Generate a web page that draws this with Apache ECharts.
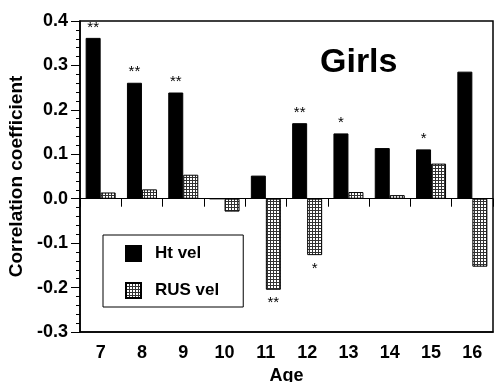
<!DOCTYPE html>
<html>
<head>
<meta charset="utf-8">
<script src="https://cdn.jsdelivr.net/npm/echarts@6/dist/echarts.min.js"></script>
<style>html,body{margin:0;padding:0;background:#fff;}#c{width:496px;height:382px;}</style>
</head>
<body>
<div id="c"></div>
<script>
const ages = ['7','8','9','10','11','12','13','14','15','16'];
const htVel = [0.362, 0.261, 0.239, 0.0, 0.052, 0.170, 0.147, 0.114, 0.111, 0.286];
const rusVel = [0.014, 0.021, 0.054, -0.029, -0.205, -0.127, 0.015, 0.008, 0.079, -0.153];
const htSig = ['**','**','**','','','**','*','','*',''];
const rusSig = ['','','','','**','*','','','',''];
const yTicks = ['-0.3','-0.2','-0.1','0.0','0.1','0.2','0.3','0.4'];

const FONT = 'Liberation Sans, Arial, Helvetica, sans-serif';

const pc = document.createElement('canvas');
pc.width = 3; pc.height = 3;
const g = pc.getContext('2d');
g.fillStyle = '#fff'; g.fillRect(0,0,3,3);
g.fillStyle = '#333'; g.fillRect(0,0,3,1); g.fillRect(0,0,1,3);
const pattern = {image: pc, repeat: 'repeat'};

const chart = echarts.init(document.getElementById('c'), null, {renderer:'canvas'});
chart.setOption({
  animation: false,
  backgroundColor: '#fff',
  title: {
    text: 'Girls', left: 320, top: 46, padding: 0,
    textStyle: {fontFamily: FONT, fontSize: 34, fontWeight: 'bold', color: '#000'}
  },
  legend: {
    orient: 'vertical', left: 103, top: 235,
    padding: [10, 24, 8, 22],
    icon: 'rect',
    itemWidth: 15, itemHeight: 15, itemGap: 20,
    borderColor: '#000', borderWidth: 1,
    backgroundColor: '#fff',
    textStyle: {fontFamily: FONT, fontSize: 17, fontWeight: 'bold', color: '#000', padding: [0,0,0,9]},
    data: ['Ht vel', 'RUS vel']
  },
  grid: {
    left: 80, right: 3, top: 21, bottom: 50,
    outerBoundsMode: 'none', containLabel: false,
    show: true, borderColor: '#000', borderWidth: 1.5, backgroundColor: '#fff'
  },
  xAxis: [{
    type: 'category', data: ages, position: 'bottom',
    axisLine: {onZero: false, lineStyle: {color: '#000', width: 1.5}},
    axisTick: {show: false},
    axisLabel: {color: '#000', fontFamily: FONT, fontSize: 18, fontWeight: 'bold', margin: 12},
    name: 'Age', nameLocation: 'middle', nameGap: 34,
    nameTextStyle: {color: '#000', fontFamily: FONT, fontSize: 18, fontWeight: 'bold'}
  }, {
    type: 'category', data: ages, position: 'top',
    axisLine: {onZero: true, lineStyle: {color: '#000', width: 1}},
    axisTick: {show: true, inside: true, length: 8, lineStyle: {color: '#000', width: 1}},
    axisLabel: {show: false}
  }],
  yAxis: {
    type: 'value', min: -0.3, max: 0.4, interval: 0.1,
    axisLine: {show: true, lineStyle: {color: '#000', width: 1.5}},
    axisTick: {show: true, length: 9, lineStyle: {color: '#000'}},
    minorTick: {show: true, splitNumber: 5, length: 4, lineStyle: {color: '#000'}},
    splitLine: {show: false},
    axisLabel: {
      color: '#000', fontFamily: FONT, fontSize: 18, fontWeight: 'bold', margin: 12,
      formatter: v => yTicks[Math.round((v + 0.3) * 10)]
    },
    name: 'Correlation coefficient', nameLocation: 'middle', nameGap: 54,
    nameTextStyle: {color: '#000', fontFamily: FONT, fontSize: 19, fontWeight: 'bold'}
  },
  series: [{
    name: 'Ht vel', type: 'bar', xAxisIndex: 0, data: htVel,
    barWidth: 15, barGap: '0%',
    itemStyle: {color: '#000', borderColor: '#000', borderWidth: 1},
    label: {show: true, position: 'top', distance: 3, color: '#000', fontFamily: FONT, fontSize: 15,
      formatter: p => htSig[p.dataIndex]}
  }, {
    name: 'RUS vel', type: 'bar', xAxisIndex: 0, data: rusVel,
    barWidth: 15, barGap: '0%',
    itemStyle: {color: pattern, borderColor: '#000', borderWidth: 1},
    label: {show: true, position: 'bottom', distance: 6, color: '#000', fontFamily: FONT, fontSize: 15,
      formatter: p => rusSig[p.dataIndex]}
  }]
});
</script>
</body>
</html>
